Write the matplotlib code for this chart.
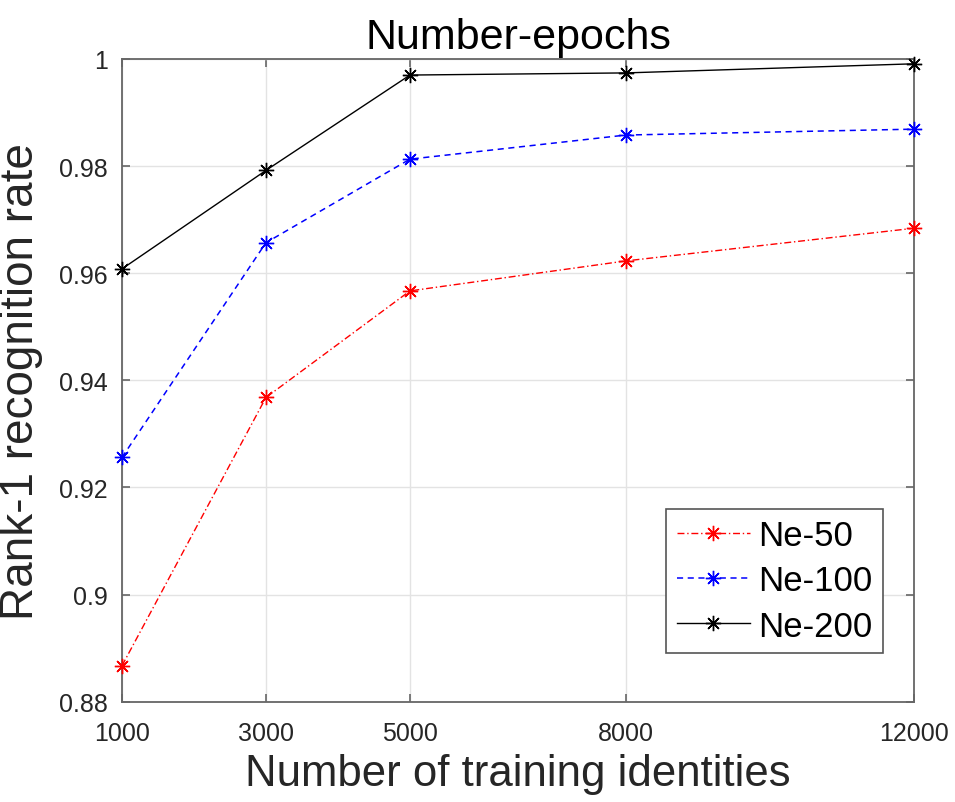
import matplotlib
matplotlib.use("Agg")
import matplotlib.pyplot as plt

x_vals = [1000, 3000, 5000, 8000, 12000]
ne50 = [0.8867, 0.9368, 0.9567, 0.9623, 0.9684]
ne100 = [0.9256, 0.9657, 0.9813, 0.9858, 0.9869]
ne200 = [0.9608, 0.9792, 0.9970, 0.9974, 0.9991]
series_labels = ["Ne-50", "Ne-100", "Ne-200"]
y_ticks = [0.88, 0.90, 0.92, 0.94, 0.96, 0.98, 1.00]
y_ticklabels = ["0.88", "0.9", "0.92", "0.94", "0.96", "0.98", "1"]
x_ticklabels = ["1000", "3000", "5000", "8000", "12000"]

plt.rcParams['font.family'] = ['Liberation Sans', 'DejaVu Sans']

fig = plt.figure(figsize=(9.55, 8.03), dpi=100)
ax = fig.add_axes([0.1277, 0.1249, 0.8293, 0.8004])

star = (8, 2, 0)
ax.plot(x_vals, ne50, color='#ff0000', lw=1.0, dashes=(5, 2, 1, 2), marker=star,
        markersize=11, markeredgewidth=1.0, label=series_labels[0], clip_on=False, zorder=3)
ax.plot(x_vals, ne100, color='#0000ff', lw=1.1, dashes=(4, 3), marker=star,
        markersize=11, markeredgewidth=1.0, label=series_labels[1], clip_on=False, zorder=3)
ax.plot(x_vals, ne200, color='#000000', lw=1.0, linestyle='-', marker=star,
        markersize=11, markeredgewidth=1.0, label=series_labels[2], clip_on=False, zorder=3)

ax.set_xlim(1000, 12000)
ax.set_ylim(0.88, 1.0)
ax.set_xticks(x_vals)
ax.set_xticklabels(x_ticklabels)
ax.set_yticks(y_ticks)
ax.set_yticklabels(y_ticklabels)

ax.grid(True, color='#e3e3e3', lw=1.0)
ax.set_axisbelow(True)
for s in ax.spines.values():
    s.set_color('#666666')
    s.set_linewidth(1.3)
ax.tick_params(direction='in', length=6, width=1.2, color='#666666',
               top=True, right=True, labelsize=18, labelcolor='#262626')
ax.tick_params(axis='x', pad=14)
ax.tick_params(axis='y', pad=10)

ax.set_title("Number-epochs", fontsize=31, color='black', pad=8)
ax.set_xlabel("Number of training identities", fontsize=31.5, color='#262626', labelpad=6)
ax.set_ylabel("Rank-1 recognition rate", fontsize=33, color='#262626', labelpad=12)

leg = ax.legend(loc='lower right', bbox_to_anchor=(0.961, 0.0758), borderaxespad=0,
                fontsize=25, fancybox=False, framealpha=1, edgecolor='#555555',
                handlelength=2.1, handletextpad=0.25, labelspacing=0.35, borderpad=0.3)
leg.get_frame().set_linewidth(1.2)

fig.savefig("out.png", dpi=100)
